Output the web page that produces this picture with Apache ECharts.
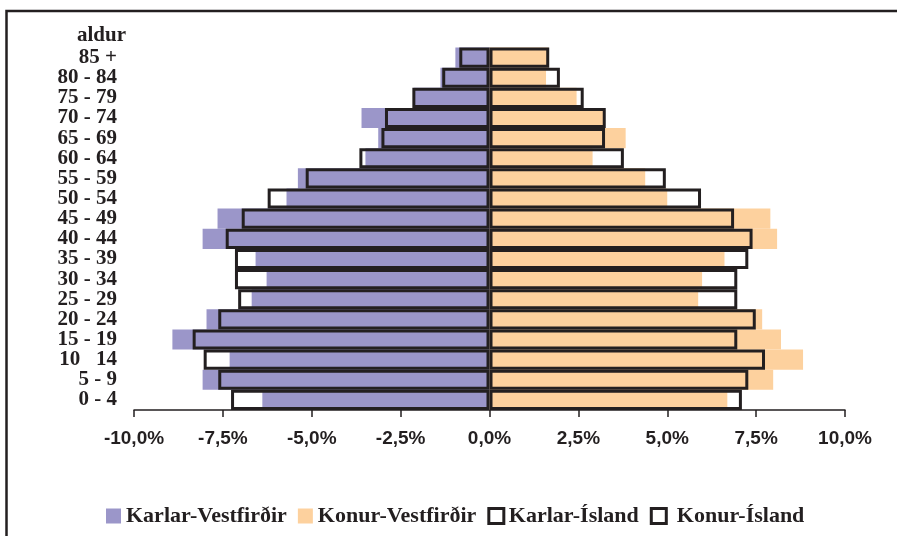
<!DOCTYPE html>
<html>
<head>
<meta charset="utf-8">
<script src="https://cdn.jsdelivr.net/npm/echarts@6/dist/echarts.min.js"></script>
<style>
html,body{margin:0;padding:0;background:#fff;}
#chart{width:897px;height:536px;}
</style>
</head>
<body>
<div id="chart"></div>
<script>
var ageGroups = ['0 - 4','5 - 9','10   14','15 - 19','20 - 24','25 - 29','30 - 34','35 - 39','40 - 44','45 - 49','50 - 54','55 - 59','60 - 64','65 - 69','70 - 74','75 - 79','80 - 84','85 +'];
var karlarVestfirdir = [-6.39,-8.07,-7.31,-8.92,-7.96,-6.69,-6.27,-6.58,-8.07,-7.65,-5.71,-5.39,-3.49,-3.13,-3.60,-2.13,-1.38,-0.96];
var konurVestfirdir = [6.69,7.98,8.82,8.20,7.67,5.87,5.98,6.61,8.09,7.90,5.00,4.38,2.90,3.83,3.22,2.45,1.59,1.66];
var karlarIsland = [-7.27,-7.63,-8.04,-8.35,-7.63,-7.07,-7.16,-7.16,-7.42,-6.97,-6.24,-5.17,-3.66,-3.04,-2.94,-2.17,-1.33,-0.85];
var konurIsland = [7.10,7.28,7.75,6.97,7.49,6.97,6.97,7.28,7.40,6.88,5.95,4.96,3.78,3.25,3.27,2.65,1.98,1.68];
var xTicks = {min:-10, max:10, interval:2.5};
var seriesNames = ['Karlar-Vestfirðir','Konur-Vestfirðir','Karlar-Ísland','Konur-Ísland'];
var axisName = 'aldur';

var ink = '#231f20';
var purple = '#9b96c9';
var orange = '#fdd19e';
var serif = "'Liberation Serif','Times New Roman',serif";
var sans = "'Liberation Sans',Arial,sans-serif";

var chart = echarts.init(document.getElementById('chart'), null, {renderer:'canvas'});
chart.setOption({
  animation:false,
  backgroundColor:'#fff',
  graphic:[{
    type:'polyline', silent:true,
    shape:{points:[[6.5,536],[6.5,11],[897,11]]},
    style:{stroke:ink, lineWidth:2.5, fill:null}
  }],
  grid:{left:134, right:52, top:47.5, bottom:126, containLabel:false},
  legend:{
    left:101, top:500, itemWidth:15, itemHeight:15, itemGap:11,
    selectedMode:false,
    textStyle:{fontFamily:serif, fontWeight:'bold', fontSize:22, color:ink},
    formatter:function(n){ return n === seriesNames[3] ? ' ' + n : n; },
    data:[
      {name:seriesNames[0], icon:'rect', itemStyle:{color:purple, borderWidth:0}},
      {name:seriesNames[1], icon:'rect', itemStyle:{color:orange, borderWidth:0}},
      {name:seriesNames[2], icon:'rect', itemStyle:{color:'#fff', borderColor:ink, borderWidth:3}},
      {name:seriesNames[3], icon:'rect', itemStyle:{color:'#fff', borderColor:ink, borderWidth:3}}
    ]
  },
  xAxis:{
    type:'value', min:xTicks.min, max:xTicks.max, interval:xTicks.interval,
    axisLine:{show:true, onZero:false, lineStyle:{color:ink, width:1.5}},
    axisTick:{show:true, length:7, lineStyle:{color:ink, width:1.5}},
    splitLine:{show:false},
    axisLabel:{
      margin:19, color:ink, fontFamily:sans, fontWeight:'bold', fontSize:19,
      formatter:function(v){ return v.toFixed(1).replace('.', ',') + '%'; }
    }
  },
  yAxis:{
    type:'category', data:ageGroups,
    name:axisName, nameLocation:'end', nameGap:1,
    nameTextStyle:{fontFamily:serif, fontWeight:'bold', fontSize:21, color:ink, align:'right', verticalAlign:'bottom', padding:[0,8,0,0]},
    axisLine:{show:false, onZero:false},
    axisTick:{show:false},
    splitLine:{show:false},
    axisLabel:{margin:17, color:ink, fontFamily:serif, fontWeight:'bold', fontSize:21, interval:0}
  },
  series:[
    {name:seriesNames[0], type:'bar', data:karlarVestfirdir, barGap:'-100%', barCategoryGap:'0%',
     itemStyle:{color:purple}},
    {name:seriesNames[1], type:'bar', data:konurVestfirdir, barGap:'-100%', barCategoryGap:'0%',
     itemStyle:{color:orange}},
    {name:seriesNames[2], type:'bar', data:karlarIsland, barGap:'-100%', barCategoryGap:'0%',
     itemStyle:{color:'rgba(0,0,0,0)', borderColor:ink, borderWidth:3}},
    {name:seriesNames[3], type:'bar', data:konurIsland, barGap:'-100%', barCategoryGap:'0%',
     itemStyle:{color:'rgba(0,0,0,0)', borderColor:ink, borderWidth:3}}
  ]
});
</script>
</body>
</html>
